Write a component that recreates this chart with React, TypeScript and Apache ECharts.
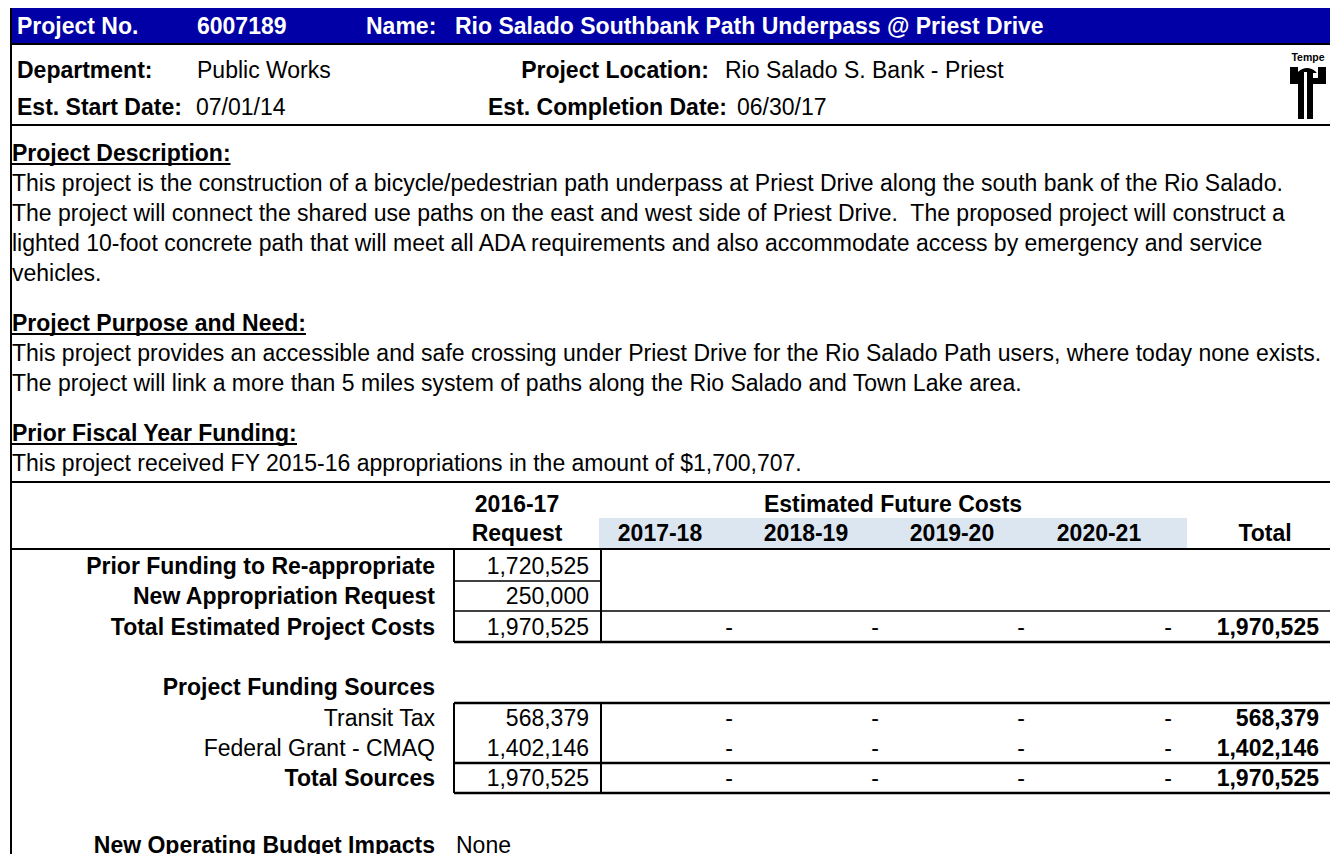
import React, { useEffect, useRef } from "react";
import * as echarts from "echarts";

const projectNo = "6007189";
const projectName = "Rio Salado Southbank Path Underpass @ Priest Drive";
const department = "Public Works";
const projectLocation = "Rio Salado S. Bank - Priest";
const startDate = "07/01/14";
const completionDate = "06/30/17";
const descriptionLines = [
  "This project is the construction of a bicycle/pedestrian path underpass at Priest Drive along the south bank of the Rio Salado.",
  "The project will connect the shared use paths on the east and west side of Priest Drive.  The proposed project will construct a",
  "lighted 10-foot concrete path that will meet all ADA requirements and also accommodate access by emergency and service",
  "vehicles.",
];
const purposeLines = [
  "This project provides an accessible and safe crossing under Priest Drive for the Rio Salado Path users, where today none exists.",
  "The project will link a more than 5 miles system of paths along the Rio Salado and Town Lake area.",
];
const priorLines = ["This project received FY 2015-16 appropriations in the amount of $1,700,707."];
const requestYear = "2016-17";
const futureYears = ["2017-18", "2018-19", "2019-20", "2020-21"];
const costLabels = ["Prior Funding to Re-appropriate", "New Appropriation Request", "Total Estimated Project Costs"];
const costRequest = [1720525, 250000, 1970525];
const costFuture: (number[] | null)[] = [null, null, [0, 0, 0, 0]];
const costTotal: (number | null)[] = [null, null, 1970525];
const sourceLabels = ["Transit Tax", "Federal Grant - CMAQ", "Total Sources"];
const sourceRequest = [568379, 1402146, 1970525];
const sourceFuture = [[0, 0, 0, 0], [0, 0, 0, 0], [0, 0, 0, 0]];
const sourceTotal = [568379, 1402146, 1970525];
const operatingImpact = "None";

const FONT = '"Liberation Sans", Arial, sans-serif';
const fmt = (n: number) => (n === 0 ? "-" : n.toLocaleString("en-US"));

function measure(text: string, size: number, bold: boolean) {
  const c = document.createElement("canvas").getContext("2d")!;
  c.font = `${bold ? "bold " : ""}${size}px ${FONT}`;
  return c.measureText(text).width;
}

type TOpt = { size?: number; bold?: boolean; align?: string; fill?: string; sx?: number };
function txt(x: number, y: number, text: string, o: TOpt = {}) {
  return {
    type: "text",
    x,
    y,
    scaleX: o.sx ?? 1,
    silent: true,
    style: {
      text,
      fontFamily: FONT,
      fontSize: o.size ?? 23,
      fontWeight: o.bold ? "bold" : "normal",
      fill: o.fill ?? "#000",
      align: o.align ?? "left",
      verticalAlign: "middle",
    },
  };
}
function line(x1: number, y1: number, x2: number, y2: number, w = 1, stroke = "#000") {
  return { type: "line", silent: true, shape: { x1, y1, x2, y2 }, style: { stroke, lineWidth: w } };
}
function rect(x: number, y: number, width: number, height: number, fill: string) {
  return { type: "rect", silent: true, shape: { x, y, width, height }, style: { fill } };
}

export default function App() {
  const ref = useRef<HTMLDivElement>(null);
  useEffect(() => {
    const chart = echarts.init(ref.current!, null, { renderer: "svg" });
    const els: any[] = [];
    const W = 1330;
    const L = 10;
    const HS = 23; // header size
    const BODY = 23;
    const TS = 23; // table font size

    // header bar
    els.push(rect(L, 8, W - L, 36, "#0000a6"));
    els.push(line(L, 44, W, 44, 2));
    els.push(txt(17, 26, "Project No.", { bold: true, fill: "#fff", size: HS }));
    els.push(txt(197, 26, projectNo, { bold: true, fill: "#fff", size: HS }));
    els.push(txt(366, 26, "Name:", { bold: true, fill: "#fff", size: HS }));
    els.push(txt(455, 26, projectName, { bold: true, fill: "#fff", size: HS }));

    // info rows
    els.push(txt(17, 70, "Department:", { bold: true, size: HS }));
    els.push(txt(197, 70, department, { size: HS }));
    els.push(txt(709, 70, "Project Location:", { bold: true, align: "right", size: HS }));
    els.push(txt(725, 70, projectLocation, { size: HS }));
    els.push(txt(17, 107, "Est. Start Date:", { bold: true, size: HS }));
    els.push(txt(196, 107, startDate, { size: HS }));
    els.push(txt(727, 107, "Est. Completion Date:", { bold: true, align: "right", size: HS }));
    els.push(txt(737, 107, completionDate, { size: HS }));

    // logo
    els.push(txt(1308, 57, "Tempe", { bold: true, size: 10.5, align: "center" }));
    els.push(rect(1290, 67, 8, 17, "#000"));
    els.push({ type: "sector", silent: true, shape: { cx: 1307, cy: 80, r0: 0, r: 12, startAngle: Math.PI, endAngle: Math.PI * 2 }, style: { fill: "#000" } });
    els.push(rect(1304, 72, 3, 9, "#fff"));
    els.push(rect(1313, 73, 6, 6, "#fff"));
    els.push(rect(1298, 72, 6, 47, "#000"));
    els.push(rect(1307, 74, 6, 45, "#000"));
    els.push(rect(1318, 67, 8, 17, "#000"));
    els.push(rect(1312, 78, 14, 6, "#000"));

    els.push(line(L, 125, W, 125, 2));

    // sections
    const section = (y: number, title: string, lines: string[]) => {
      els.push(txt(12, y, title, { bold: true, size: BODY }));
      const w = measure(title, BODY, true);
      els.push(line(12, y + 11, 12 + w, y + 11, 2));
      lines.forEach((s, i) => els.push(txt(12, y + 30 * (i + 1), s, { size: BODY })));
    };
    section(153, "Project Description:", descriptionLines);
    section(323, "Project Purpose and Need:", purposeLines);
    section(433, "Prior Fiscal Year Funding:", priorLines);

    els.push(line(L, 482, W, 482, 2));

    // table header
    const reqC = 517;
    const yearC = [660, 806, 952, 1099];
    const totC = 1265;
    els.push(rect(599, 518, 588, 31, "#dce6f1"));
    els.push(txt(reqC, 504, requestYear, { bold: true, size: TS, align: "center" }));
    els.push(txt(reqC, 533, "Request", { bold: true, size: TS, align: "center" }));
    els.push(txt(893, 504, "Estimated Future Costs", { bold: true, size: TS, align: "center" }));
    futureYears.forEach((y, i) => els.push(txt(yearC[i], 533, y, { bold: true, size: TS, align: "center" })));
    els.push(txt(totC, 533, "Total", { bold: true, size: TS, align: "center" }));
    els.push(line(L, 549, W, 549, 2));

    const labelR = 435;
    const reqR = 589;
    const dashC = [729, 875, 1021, 1168];
    const totR = 1319;
    const boxL = 454;
    const boxR = 601;

    // cost rows
    const costY = [566, 596, 627];
    costLabels.forEach((lab, i) => {
      const y = costY[i];
      els.push(txt(labelR, y, lab, { bold: true, size: TS, align: "right" }));
      els.push(txt(reqR, y, fmt(costRequest[i]), { size: TS, align: "right" }));
      const f = costFuture[i];
      if (f) f.forEach((v, j) => els.push(txt(dashC[j], y, fmt(v), { size: TS, align: "center" })));
      const t = costTotal[i];
      if (t != null) els.push(txt(totR, y, fmt(t), { bold: true, size: TS, align: "right" }));
    });
    els.push(line(boxL, 549, boxL, 642, 2));
    els.push(line(boxR, 549, boxR, 642, 2));
    els.push(line(boxL, 581, boxR, 581, 1.5));
    els.push(line(boxL, 611, W, 611, 1.5));
    els.push(line(boxL, 642, W, 642, 2.5));

    // sources
    els.push(txt(labelR, 687, "Project Funding Sources", { bold: true, size: TS, align: "right" }));
    const srcY = [718, 748, 778];
    sourceLabels.forEach((lab, i) => {
      const y = srcY[i];
      const isTotal = i === sourceLabels.length - 1;
      els.push(txt(labelR, y, lab, { bold: isTotal, size: TS, align: "right" }));
      els.push(txt(reqR, y, fmt(sourceRequest[i]), { size: TS, align: "right" }));
      sourceFuture[i].forEach((v, j) => els.push(txt(dashC[j], y, fmt(v), { size: TS, align: "center" })));
      els.push(txt(totR, y, fmt(sourceTotal[i]), { bold: true, size: TS, align: "right" }));
    });
    els.push(line(boxL, 703, W, 703, 2.5));
    els.push(line(boxL, 763, W, 763, 2.5));
    els.push(line(boxL, 793, W, 793, 2.5));
    els.push(line(boxL, 703, boxL, 793, 2));
    els.push(line(boxR, 703, boxR, 793, 2));

    els.push(txt(labelR, 845, "New Operating Budget Impacts", { bold: true, size: TS, align: "right" }));
    els.push(txt(456, 845, operatingImpact, { size: TS }));

    // left border
    els.push(line(L + 1, 8, L + 1, 854, 2));

    chart.setOption({ animation: false, graphic: { elements: els } });
    return () => chart.dispose();
  }, []);
  return (
    <div
      ref={ref}
      style={{ position: "fixed", left: 0, top: 0, width: 1330, height: 854, background: "#fff" }}
    />
  );
}
